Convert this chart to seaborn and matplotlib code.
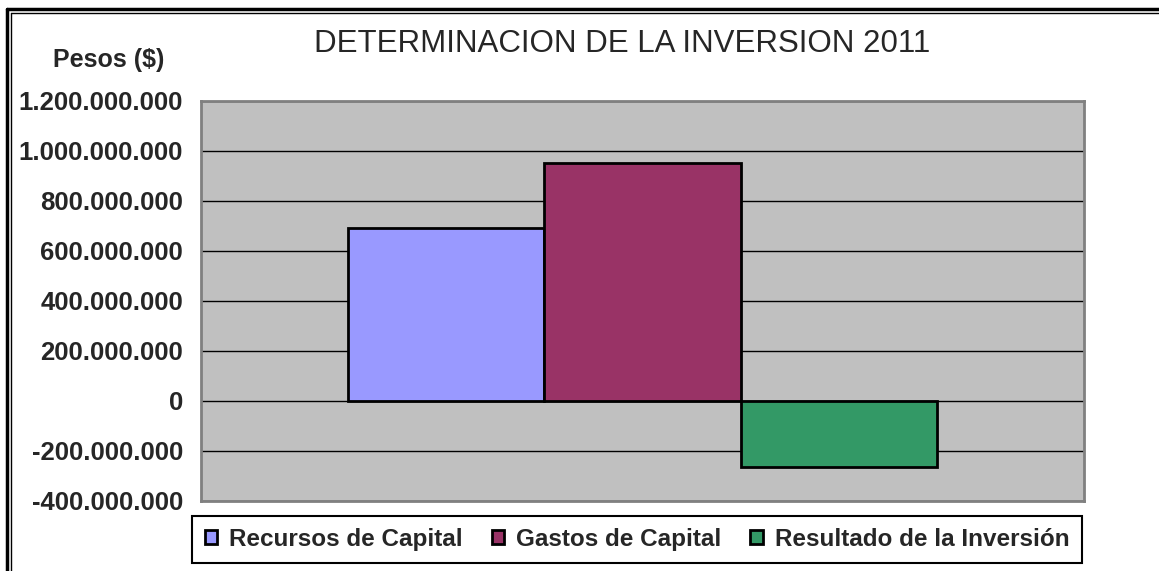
import matplotlib
matplotlib.use("Agg")
import matplotlib.pyplot as plt
import seaborn as sns
import pandas as pd
from matplotlib.lines import Line2D
from matplotlib.ticker import FuncFormatter

# data
categories = ["Recursos de Capital", "Gastos de Capital", "Resultado de la Inversión"]
values = [692000000, 952000000, -262000000]
colors = ["#9999FF", "#993366", "#339966"]
year_label = ["2011"]

sns.set_style("white")
plt.rcParams["font.family"] = ["Liberation Sans", "DejaVu Sans"]

df = pd.DataFrame({"anio": year_label * 3, "serie": categories, "valor": values})

fig = plt.figure(figsize=(11.59, 5.71), dpi=100)
ax = fig.add_axes([201 / 1159, 70 / 571, 883 / 1159, 400 / 571])
ax.set_facecolor("#C0C0C0")

sns.barplot(data=df, x="anio", y="valor", hue="serie", palette=colors,
            saturation=1, width=0.666, dodge=True, edgecolor="black",
            linewidth=2, ax=ax, legend=False)

ax.set_ylim(-400000000, 1200000000)
ax.set_yticks(range(-400000000, 1200000001, 200000000))
ax.yaxis.set_major_formatter(FuncFormatter(lambda v, p: f"{int(v):,}".replace(",", ".")))
ax.grid(axis="y", color="black", linewidth=1)
ax.set_axisbelow(True)
ax.set_xticks([])
ax.set_xlabel("")
ax.set_ylabel("")
for s in ax.spines.values():
    s.set_color("#808080")
    s.set_linewidth(2)
ax.tick_params(axis="y", direction="out", length=8, width=1, color="black",
               labelsize=18.5, pad=5)
for t in ax.get_yticklabels():
    t.set_fontweight("bold")

fig.text(622 / 1159, 1 - 44 / 571, "DETERMINACION DE LA INVERSION 2011",
         ha="center", va="center", fontsize=22.5)
fig.text(109 / 1159, 1 - 60 / 571, "Pesos ($)", ha="center", va="center",
         fontsize=18, fontweight="bold")

handles = [plt.Rectangle((0, 0), 1, 1, facecolor=c, edgecolor="black", linewidth=2)
           for c in colors]
leg = fig.legend(handles, categories, loc="center", ncol=3,
                 bbox_to_anchor=(637 / 1159, 1 - 539.5 / 571),
                 frameon=True, fancybox=False, framealpha=1, edgecolor="black",
                 handlelength=0.5, handleheight=0.5, handletextpad=0.5,
                 columnspacing=1.2, borderpad=0.5,
                 prop={"size": 17.5, "weight": "bold"})
leg.get_frame().set_linewidth(1.5)

# double border at top and left like the Excel chart frame
W, H = 1159, 571
fig.add_artist(Line2D([7 / W, 7 / W], [0, 1 - 9 / H], color="black", linewidth=2.5, transform=fig.transFigure))
fig.add_artist(Line2D([7 / W, 1], [1 - 9 / H, 1 - 9 / H], color="black", linewidth=2.5, transform=fig.transFigure))
fig.add_artist(Line2D([11 / W, 11 / W], [0, 1 - 13 / H], color="black", linewidth=1, transform=fig.transFigure))
fig.add_artist(Line2D([11 / W, 1], [1 - 13 / H, 1 - 13 / H], color="black", linewidth=1, transform=fig.transFigure))

fig.savefig("out.png", dpi=100)
